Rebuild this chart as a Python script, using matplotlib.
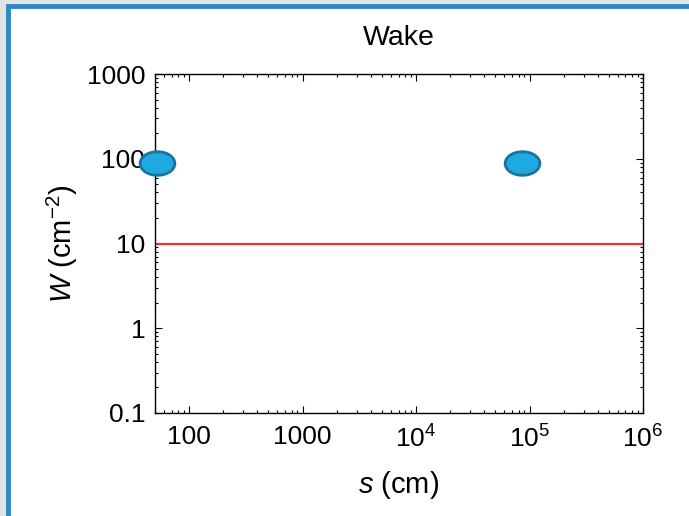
import numpy as np
import matplotlib.pyplot as plt
from matplotlib.path import Path
from matplotlib.patches import Rectangle

plt.rcParams['font.family'] = ['Liberation Sans', 'DejaVu Sans']
plt.rcParams['mathtext.fontset'] = 'custom'
plt.rcParams['mathtext.it'] = 'Liberation Sans:italic'
plt.rcParams['mathtext.rm'] = 'Liberation Sans'

# data
s_vals = [52, 85000]
w_vals = [90, 90]
w_limit = 10

x_ticks = [100, 1000, 1e4, 1e5, 1e6]
x_labels = ['100', '1000', r'$10^4$', r'$10^5$', r'$10^6$']
y_ticks = [0.1, 1, 10, 100, 1000]
y_labels = ['0.1', '1', '10', '100', '1000']

# elliptical marker (wider than tall)
t = np.linspace(0, 2 * np.pi, 60)
ellipse = Path(np.column_stack([np.cos(t), 0.68 * np.sin(t)]), closed=True)

fig = plt.figure(figsize=(6.89, 5.16), dpi=100)
fig.patch.set_facecolor('#e3e3e3')
# slide frame
fig.patches.append(Rectangle((8 / 689, -0.1), 1.2, (516 - 6) / 516 + 0.1,
                             transform=fig.transFigure, facecolor='white',
                             edgecolor='#2e86c9', linewidth=3.5, zorder=-1))

ax = fig.add_axes([155 / 689, 103 / 516, 488 / 689, 339 / 516])
ax.set_zorder(1)
ax.set_xscale('log')
ax.set_yscale('log')
ax.set_xlim(50, 1e6)
ax.set_ylim(0.1, 1000)

ax.axhline(w_limit, color='#f0312a', linewidth=1.6, zorder=2)
ax.plot(s_vals, w_vals, linestyle='none', marker=ellipse, markersize=25,
        markerfacecolor='#1ea9e1', markeredgecolor='#17749f',
        markeredgewidth=2, clip_on=False, zorder=3)

ax.set_xticks(x_ticks)
ax.set_xticklabels(x_labels)
ax.set_yticks(y_ticks)
ax.set_yticklabels(y_labels)
ax.tick_params(which='both', direction='in', top=True, right=True,
               labelsize=19, width=0.8)
ax.tick_params(which='major', length=5)
ax.tick_params(which='minor', length=2.5)
ax.tick_params(axis='x', which='major', pad=9)
ax.tick_params(axis='y', which='major', pad=7)
for sp in ax.spines.values():
    sp.set_linewidth(1.0)

ax.set_xlabel(r'$s$ (cm)', fontsize=21, labelpad=12)
ax.set_ylabel(r'$W$ (cm$^{-2}$)', fontsize=21, labelpad=5)
ax.set_title('Wake', fontsize=20.5, pad=21)

fig.savefig('out.png', dpi=100, facecolor=fig.get_facecolor())
